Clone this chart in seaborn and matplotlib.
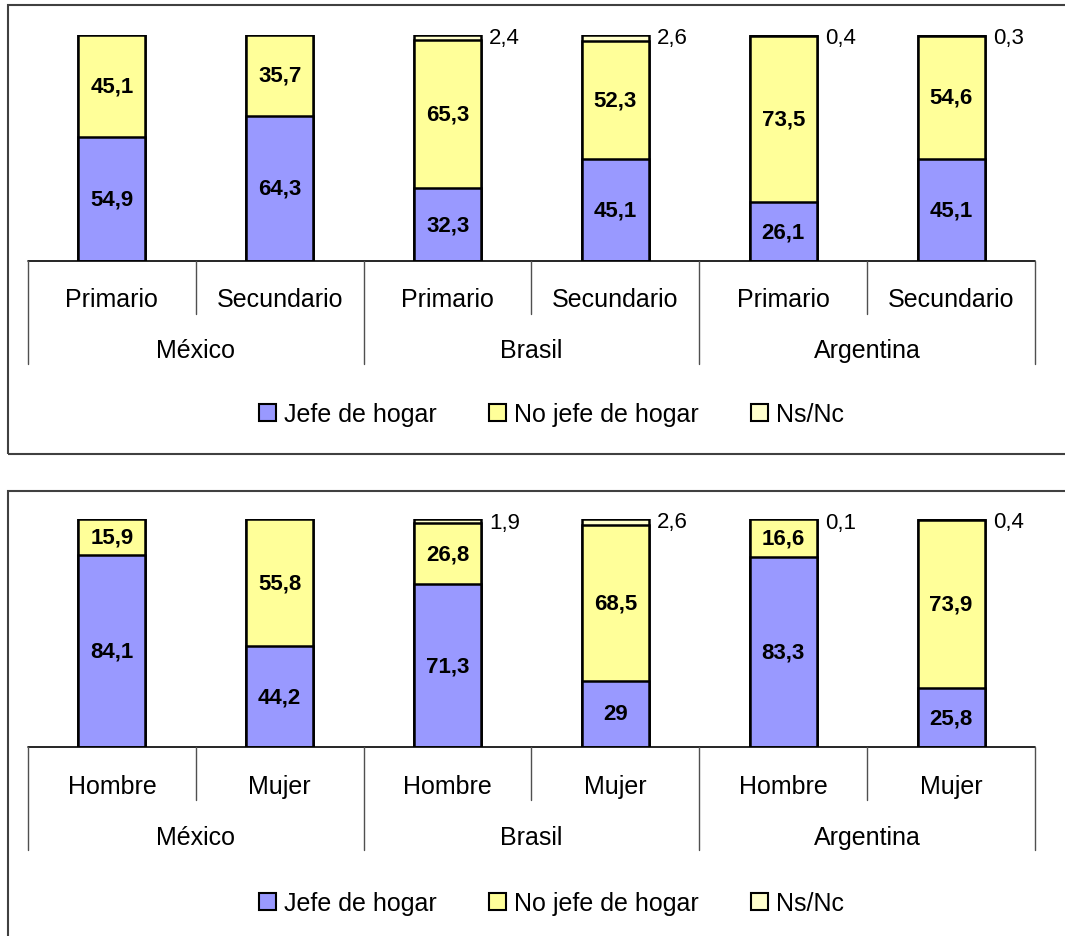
import numpy as np
import pandas as pd
import seaborn as sns
import matplotlib
matplotlib.use('Agg')
from matplotlib import pyplot as plt
from matplotlib.patches import Patch, Rectangle

sns.set_style('white')
plt.rcParams['font.family'] = ['Liberation Sans', 'DejaVu Sans']
plt.rcParams['text.color'] = 'black'

countries = ['México', 'Brasil', 'Argentina']
niveles = ['Primario', 'Secundario']
sexos = ['Hombre', 'Mujer']
series = ['Jefe de hogar', 'No jefe de hogar', 'Ns/Nc']
colors = ['#9999FF', '#FFFF99', '#FFFFCC']

# panel 1: nivel educativo
jefe_nivel = [54.9, 64.3, 32.3, 45.1, 26.1, 45.1]
nojefe_nivel = [45.1, 35.7, 65.3, 52.3, 73.5, 54.6]
nsnc_nivel = [0, 0, 2.4, 2.6, 0.4, 0.3]

# panel 2: sexo
jefe_sexo = [84.1, 44.2, 71.3, 29, 83.3, 25.8]
nojefe_sexo = [15.9, 55.8, 26.8, 68.5, 16.6, 73.9]
nsnc_sexo = [0, 0, 1.9, 2.6, 0.1, 0.4]

W, H = 1065, 937


def fmt(v):
    return f'{v:g}'.replace('.', ',')


def panel(ax, subs, jefe, nojefe, nsnc, hpx, offs):
    df = pd.DataFrame({'pais': np.repeat(countries, 2), 'sub': subs * 3,
                       'jefe': jefe, 'nojefe': nojefe, 'nsnc': nsnc})
    df['key'] = df['pais'] + ' ' + df['sub']
    df['c2'] = df['jefe'] + df['nojefe']
    df['c3'] = df['c2'] + df['nsnc']
    order = list(df['key'])
    # stacked bars by layering cumulative totals
    for col, c in [('c3', colors[2]), ('c2', colors[1]), ('jefe', colors[0])]:
        sns.barplot(data=df, x='key', y=col, color=c, width=0.4, saturation=1,
                    edgecolor='black', linewidth=1.8, errorbar=None,
                    order=order, ax=ax)

    for i, r in df.iterrows():
        ax.text(i, r.jefe / 2, fmt(r.jefe), ha='center', va='center',
                fontsize=16, fontweight='bold', color='black')
        ax.text(i, r.jefe + r.nojefe / 2, fmt(r.nojefe), ha='center',
                va='center', fontsize=16, fontweight='bold', color='black')
        if r.nsnc > 0:
            ax.annotate(fmt(r.nsnc), xy=(i + 0.2, r.c3), xytext=(8, -3),
                        textcoords='offset pixels', ha='left', va='center',
                        fontsize=16, color='black', annotation_clip=False)

    ax.set_xlim(-0.5, 5.5)
    ax.set_ylim(0, 100)
    ax.set_axis_off()

    # multi-level category axis
    tr = ax.get_xaxis_transform()
    ax.plot([-0.5, 5.5], [0, 0], color='black', lw=1.2, transform=tr, clip_on=False)
    for b in [0.5, 2.5, 4.5]:
        ax.plot([b, b], [0, -53 / hpx], color='#505050', lw=1.0, transform=tr, clip_on=False)
    for b in [-0.5, 1.5, 3.5, 5.5]:
        ax.plot([b, b], [0, -103 / hpx], color='#505050', lw=1.0, transform=tr, clip_on=False)
    for i, s in enumerate(df['sub']):
        ax.annotate(s, xy=(i, 0), xycoords=tr, xytext=(0, offs[0]),
                    textcoords='offset pixels', ha='center', va='center',
                    fontsize=18, color='black')
    for j, p in enumerate(countries):
        ax.annotate(p, xy=(2 * j + 0.5, 0), xycoords=tr, xytext=(0, offs[1]),
                    textcoords='offset pixels', ha='center', va='center',
                    fontsize=18, color='black')

    handles = [Patch(facecolor=c, edgecolor='black', lw=1.5, label=s)
               for s, c in zip(series, colors)]
    ax.legend(handles=handles, loc='center', bbox_to_anchor=(0.52, offs[2] / hpx),
              ncol=3, frameon=False, fontsize=18, handlelength=0.67,
              handleheight=0.67, handletextpad=0.32, columnspacing=2.1,
              labelcolor='black')


fig = plt.figure(figsize=(W / 100, H / 100), dpi=100)

ax1 = fig.add_axes([28 / W, 1 - 262 / H, 1007 / W, 226 / H])
panel(ax1, niveles, jefe_nivel, nojefe_nivel, nsnc_nivel, 226, (-38, -89, -153))

ax2 = fig.add_axes([28 / W, 1 - 748 / H, 1007 / W, 228 / H])
panel(ax2, sexos, jefe_sexo, nojefe_sexo, nsnc_sexo, 228, (-39, -90, -156))

# panel frames (right edge runs off the image)
fig.add_artist(Rectangle((8 / W, 1 - 455 / H), 1080 / W, 449 / H, transform=fig.transFigure,
                         fill=False, edgecolor='#404040', lw=1.5))
fig.add_artist(Rectangle((8 / W, 1 - 950 / H), 1080 / W, 458 / H, transform=fig.transFigure,
                         fill=False, edgecolor='#404040', lw=1.5))

fig.savefig('out.png', dpi=100)
